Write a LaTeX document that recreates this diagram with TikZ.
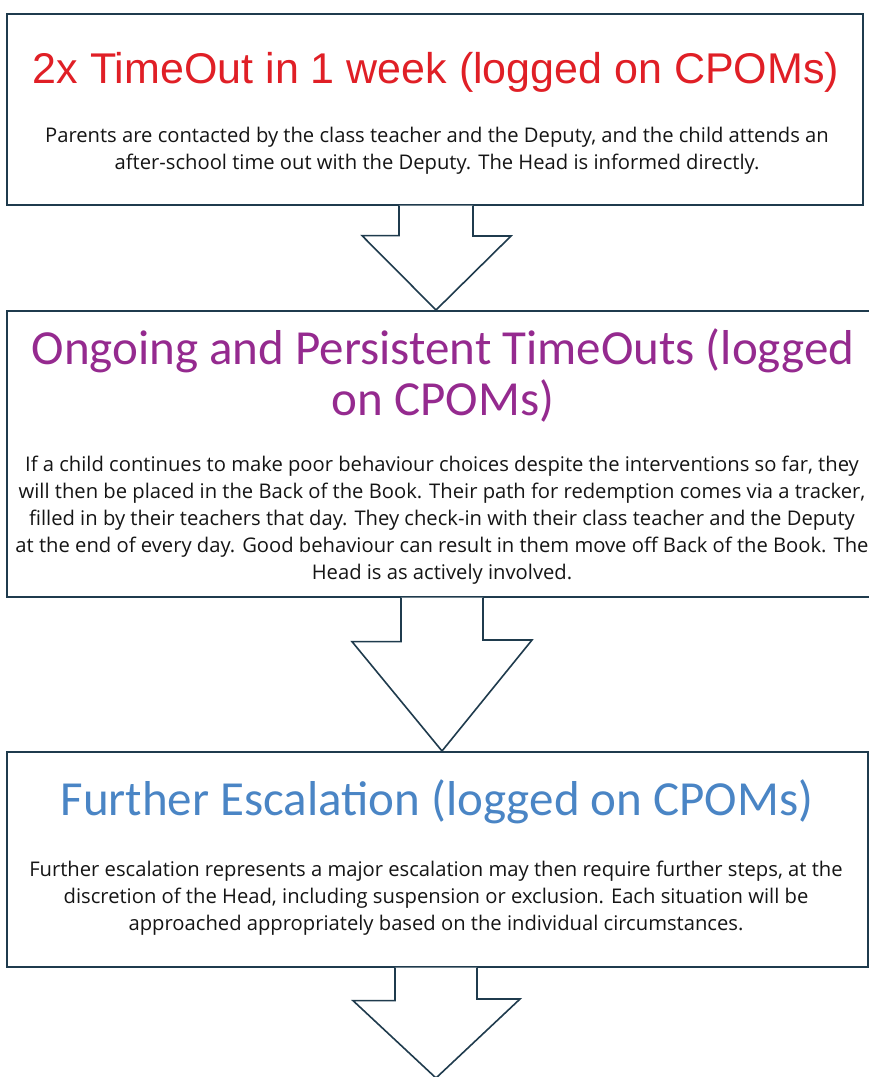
\documentclass[tikz,border=0pt]{standalone}
\usepackage{fontspec}
\setmainfont{Open Sans}
\newfontfamily\titleA{Liberation Sans}
\newfontfamily\titleB{Carlito}
\definecolor{edge}{HTML}{1F3B4D}
\definecolor{tred}{HTML}{E01F26}
\definecolor{tpurple}{HTML}{952A8F}
\definecolor{tblue}{HTML}{4A85C5}
\definecolor{btext}{HTML}{151515}
\tikzset{
  stagebox/.style={draw=edge, line width=1.6pt, fill=white, inner sep=0pt, anchor=north west},
  downarrow/.style={draw=edge, line width=1.6pt, line join=miter},
  titleone/.style={font=\titleA\fontsize{43}{48}\selectfont, text=tred, anchor=base, inner sep=0pt},
  titletwo/.style={font=\titleB\fontsize{49}{48}\selectfont, text=tpurple, anchor=north, inner sep=0pt, align=center},
  titlethree/.style={font=\titleB\fontsize{49}{48}\selectfont, text=tblue, anchor=base, inner sep=0pt},
  bodytext/.style={font=\fontsize{20.2}{26.8}\selectfont, text=btext, anchor=north, inner sep=0pt, align=center},
}
\begin{document}
\begin{tikzpicture}[x=1pt, y=-1pt]
\useasboundingbox (0,0) rectangle (869,1077);
\fill[white] (0,0) rectangle (869,1077);
% boxes
\node[stagebox, minimum width=856pt, minimum height=191pt] (b1) at (6,13) {};
\node[stagebox, minimum width=870pt, minimum height=286pt] (b2) at (6,310) {};
\node[stagebox, minimum width=861pt, minimum height=215pt] (b3) at (6,751) {};
% arrows
\coordinate (a1) at (b1.south -| 436,0);
\coordinate (a2) at (b2.south -| 442,0);
\coordinate (a3) at (b3.south -| 436,0);
\fill[white] ([xshift=-37pt]a1) -- ++(0,30) -- ++(-37,0) -- (b2.north -| a1) -- ++(75,-74) -- ++(-38,0) -- ([xshift=37pt]a1) -- cycle;
\draw[downarrow] ([xshift=-37pt]a1) -- ++(0,30) -- ++(-37,0) -- (b2.north -| a1) -- ++(75,-74) -- ++(-38,0) -- ([xshift=37pt]a1);
\fill[white] ([xshift=-41pt]a2) -- ++(0,44) -- ++(-49,0) -- (b3.north -| a2) -- ++(90,-111) -- ++(-49,0) -- ([xshift=41pt]a2) -- cycle;
\draw[downarrow] ([xshift=-41pt]a2) -- ++(0,44) -- ++(-49,0) -- (b3.north -| a2) -- ++(90,-111) -- ++(-49,0) -- ([xshift=41pt]a2);
\coordinate (end3) at (436,1078);
\fill[white] ([xshift=-41pt]a3) -- ++(0,33) -- ++(-42,0) -- (end3) -- ++(84,-79) -- ++(-43,0) -- ([xshift=41pt]a3) -- cycle;
\draw[downarrow] ([xshift=-41pt]a3) -- ++(0,33) -- ++(-42,0) -- (end3) -- ++(84,-79) -- ++(-43,0) -- ([xshift=41pt]a3);
% texts
\node[titleone] (t1) at (436,83) {2x TimeOut in 1 week (logged on CPOMs)};
\node[bodytext] (p1) at (437,124) {\strut Parents are contacted by the class teacher and the Deputy, and the child attends an\\\strut after-school time out with the Deputy. The Head is informed directly.};
\node[titletwo] (t2) at (443,328) {\strut Ongoing and Persistent TimeOuts (logged\\\strut on CPOMs)};
\node[bodytext] (p2) at (442,453) {\strut If a child continues to make poor behaviour choices despite the interventions so far, they\\\strut will then be placed in the Back of the Book. Their path for redemption comes via a tracker,\\\strut filled in by their teachers that day. They check-in with their class teacher and the Deputy\\\strut at the end of every day. Good behaviour can result in them move off Back of the Book. The\\\strut Head is as actively involved.};
\node[titlethree] (t3) at (437,815) {Further Escalation (logged on CPOMs)};
\node[bodytext] (p3) at (436,858) {\strut Further escalation represents a major escalation may then require further steps, at the\\\strut discretion of the Head, including suspension or exclusion. Each situation will be\\\strut approached appropriately based on the individual circumstances.};
\end{tikzpicture}
\end{document}
